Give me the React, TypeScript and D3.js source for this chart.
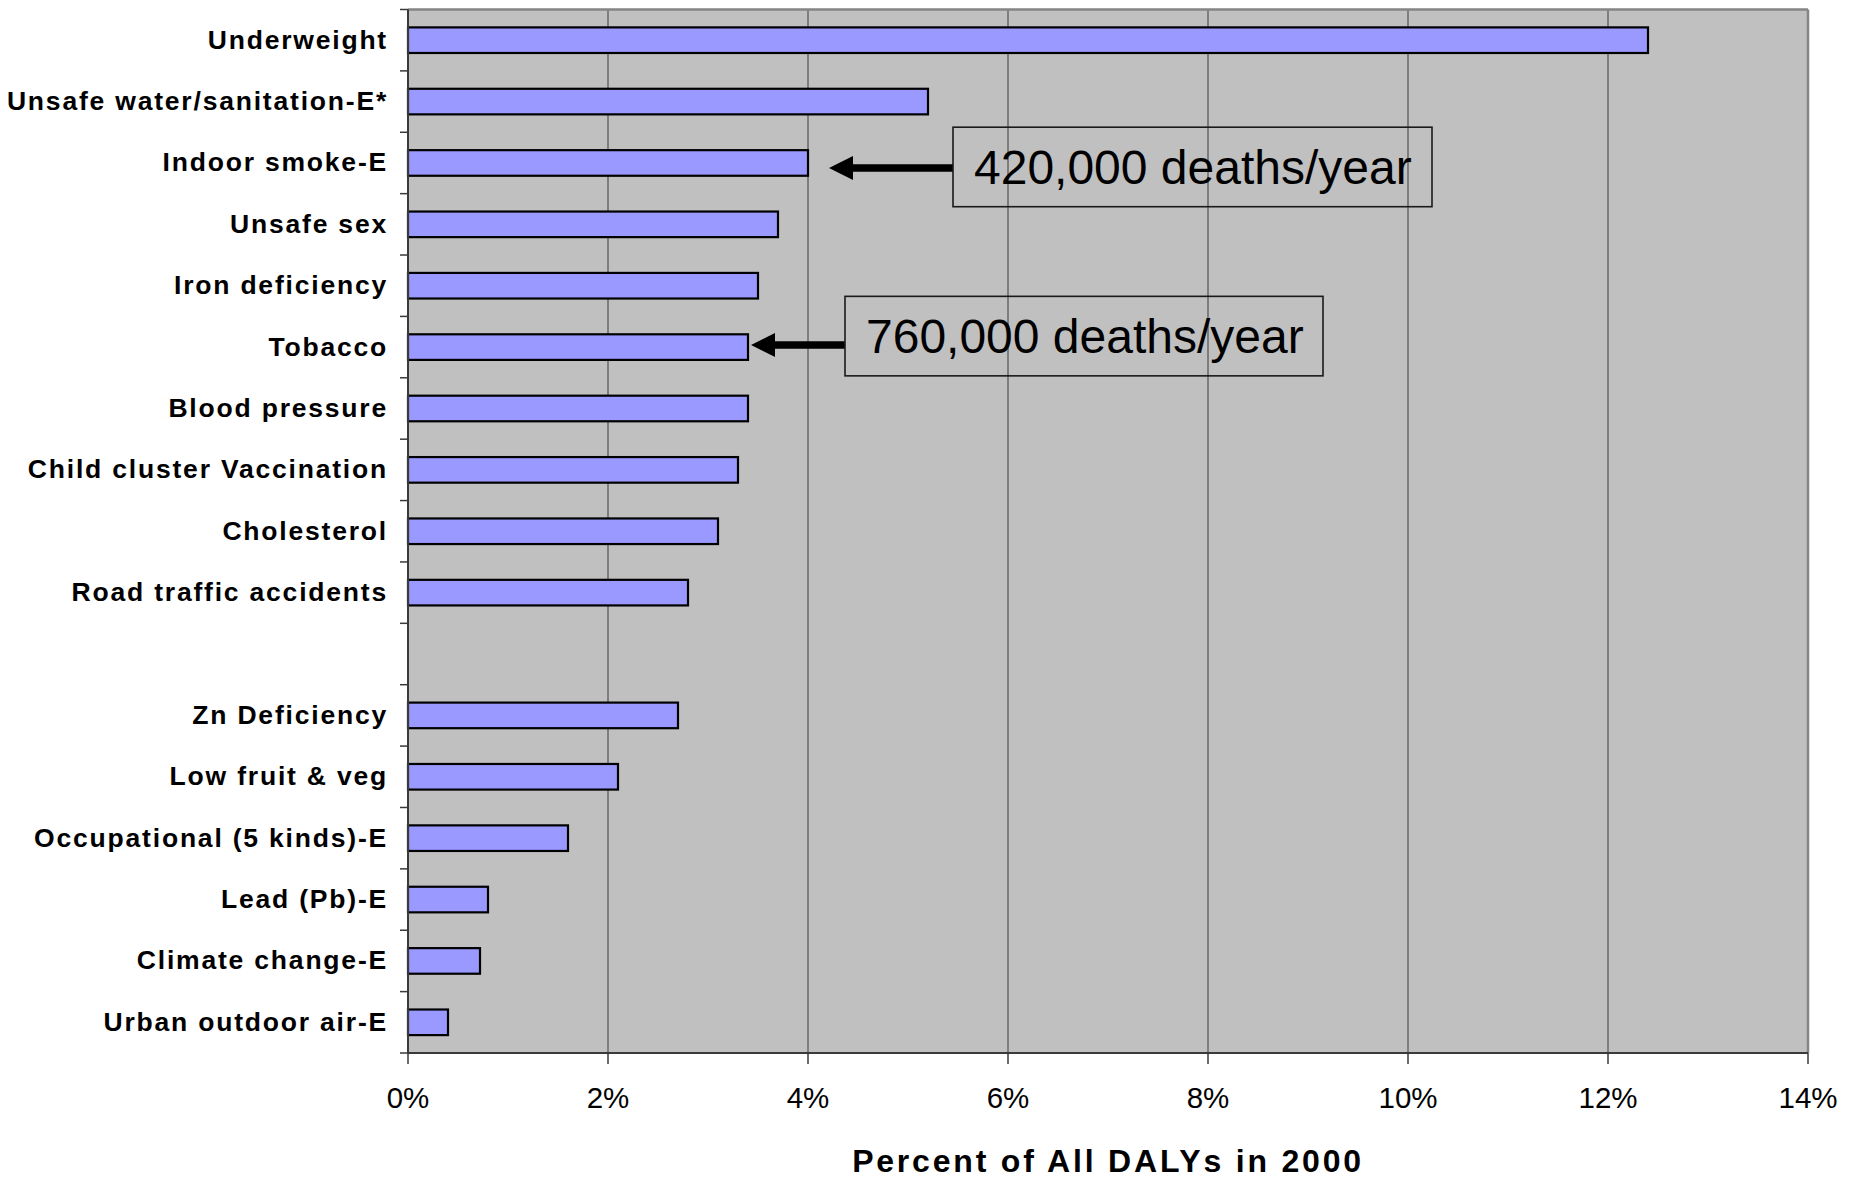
import React from "react";
import * as d3 from "d3";

const categories = [
  "Underweight",
  "Unsafe water/sanitation-E*",
  "Indoor smoke-E",
  "Unsafe sex",
  "Iron deficiency",
  "Tobacco",
  "Blood pressure",
  "Child cluster Vaccination",
  "Cholesterol",
  "Road traffic accidents",
  "",
  "Zn Deficiency",
  "Low fruit & veg",
  "Occupational (5 kinds)-E",
  "Lead (Pb)-E",
  "Climate change-E",
  "Urban outdoor air-E",
];

const values: (number | null)[] = [
  12.4, 5.2, 4.0, 3.7, 3.5, 3.4, 3.4, 3.3, 3.1, 2.8, null, 2.7, 2.1, 1.6, 0.8, 0.72, 0.4,
];

const xTicks = [0, 2, 4, 6, 8, 10, 12, 14];

const annotations = [
  { target: "Indoor smoke-E", text: "420,000 deaths/year", value: 4.0, boxFrom: 5.45, boxTo: 10.24 },
  { target: "Tobacco", text: "760,000 deaths/year", value: 3.4, boxFrom: 4.37, boxTo: 9.15 },
];

const axisTitle = "Percent of All DALYs in 2000";

const W = 1853;
const H = 1181;
const M = { left: 408, right: 1808, top: 9.5, bottom: 1053 };
const FONT = "'Liberation Sans', Arial, Helvetica, sans-serif";

export default function App() {
  const x = d3.scaleLinear().domain([0, 14]).range([M.left, M.right]);
  const y = d3
    .scaleBand<string>()
    .domain(categories)
    .range([M.top, M.bottom])
    .paddingInner(0.583)
    .paddingOuter(0.2915);
  const step = y.step();
  const center = (c: string) => (y(c) as number) + y.bandwidth() / 2;

  const boundaries = d3.range(categories.length + 1).map((i) => M.top + i * step);

  const annOffsets = [
    { arrowDy: 5, tipGap: 21, boxDy: 4 },
    { arrowDy: -2, tipGap: 3, boxDy: -11 },
  ];
  const boxH = 79.5;

  return (
    <svg
      width={W}
      height={H}
      style={{ position: "absolute", left: 0, top: 0, background: "#fff" }}
      fontFamily={FONT}
    >
      <rect x={0} y={0} width={W} height={H} fill="#ffffff" />
      <rect
        x={M.left}
        y={M.top}
        width={M.right - M.left}
        height={M.bottom - M.top}
        fill="#c0c0c0"
      />
      {xTicks
        .filter((t) => t > 0 && t < 14)
        .map((t) => (
          <line key={"g" + t} x1={x(t)} x2={x(t)} y1={M.top} y2={M.bottom} stroke="#3a3a3a" strokeWidth={1} />
        ))}
      <line x1={M.left} x2={M.right} y1={M.top} y2={M.top} stroke="#858585" strokeWidth={2.5} />
      <line x1={M.right} x2={M.right} y1={M.top} y2={M.bottom} stroke="#858585" strokeWidth={2.5} />
      {categories.map((c, i) =>
        values[i] == null ? null : (
          <rect
            key={"b" + i}
            x={x(0)}
            y={y(c)}
            width={x(values[i] as number) - x(0)}
            height={y.bandwidth()}
            fill="#9999ff"
            stroke="#000"
            strokeWidth={2.2}
          />
        )
      )}
      <line x1={M.left} x2={M.left} y1={M.top} y2={M.bottom} stroke="#3a3a3a" strokeWidth={2} />
      {boundaries.map((b, i) => (
        <line key={"yt" + i} x1={M.left - 8} x2={M.left} y1={b} y2={b} stroke="#3a3a3a" strokeWidth={1.5} />
      ))}
      <line x1={M.left} x2={M.right} y1={M.bottom} y2={M.bottom} stroke="#3a3a3a" strokeWidth={2} />
      {xTicks.map((t) => (
        <line key={"xt" + t} x1={x(t)} x2={x(t)} y1={M.bottom} y2={M.bottom + 11} stroke="#3a3a3a" strokeWidth={1.5} />
      ))}
      {xTicks.map((t) => (
        <text
          key={"xl" + t}
          x={x(t)}
          y={M.bottom + 55}
          textAnchor="middle"
          fontSize={29.5}
          fill="#000"
        >
          {`${t}%`}
        </text>
      ))}
      {categories.map((c, i) =>
        c === "" ? null : (
          <text
            key={"cl" + i}
            x={388}
            y={center(c) + 8.5}
            textAnchor="end"
            fontSize={26.5}
            fontWeight="bold"
            letterSpacing={1.8}
            fill="#000"
          >
            {c}
          </text>
        )
      )}
      <text
        x={(M.left + M.right) / 2}
        y={1172}
        textAnchor="middle"
        fontSize={32}
        fontWeight="bold"
        letterSpacing={2.8}
        fill="#000"
      >
        {axisTitle}
      </text>
      {annotations.map((a, i) => {
        const o = annOffsets[i];
        const cy = center(a.target);
        const ay = cy + o.arrowDy;
        const tip = x(a.value) + o.tipGap;
        const bx0 = x(a.boxFrom);
        const bx1 = x(a.boxTo);
        const by = cy + o.boxDy - boxH / 2;
        return (
          <g key={"a" + i}>
            <line x1={tip + 20} x2={bx0} y1={ay} y2={ay} stroke="#000" strokeWidth={7.5} />
            <path d={`M${tip},${ay} L${tip + 24},${ay - 12} L${tip + 24},${ay + 12} Z`} fill="#000" />
            <rect x={bx0} y={by} width={bx1 - bx0} height={boxH} fill="none" stroke="#1a1a1a" strokeWidth={1.6} />
            <text x={bx0 + 21} y={by + boxH / 2 + 17} fontSize={48} fill="#000">
              {a.text}
            </text>
          </g>
        );
      })}
    </svg>
  );
}
